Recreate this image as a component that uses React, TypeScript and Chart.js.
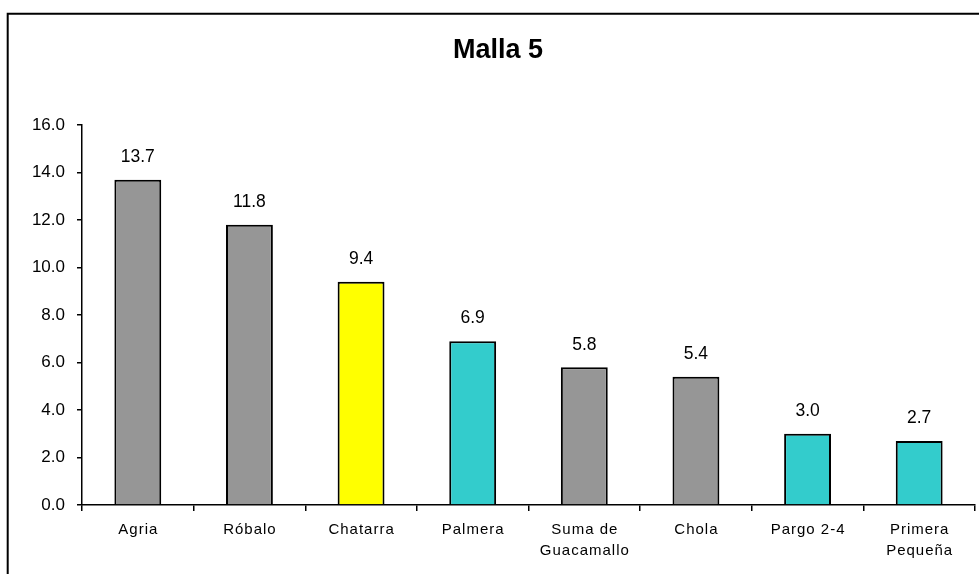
import React, { useEffect, useRef } from "react";
import { Chart, registerables } from "chart.js";

Chart.register(...registerables);

const TITLE = "Malla 5";
const categories: string[][] = [
  ["Agria"],
  ["Róbalo"],
  ["Chatarra"],
  ["Palmera"],
  ["Suma de", "Guacamallo"],
  ["Chola"],
  ["Pargo 2-4"],
  ["Primera", "Pequeña"],
];
const values: number[] = [13.7, 11.8, 9.4, 6.9, 5.8, 5.4, 3.0, 2.7];
const barColors: string[] = [
  "#969696",
  "#969696",
  "#FFFF00",
  "#33CCCC",
  "#969696",
  "#969696",
  "#33CCCC",
  "#33CCCC",
];
const yMin = 0;
const yMax = 16;
const yStep = 2;

const FONT = "Arial, 'Liberation Sans', sans-serif";

const overlayPlugin = {
  id: "overlay",
  beforeDraw(chart: any) {
    const ctx = chart.ctx;
    ctx.save();
    ctx.fillStyle = "#ffffff";
    ctx.fillRect(0, 0, chart.width, chart.height);
    ctx.strokeStyle = "#000000";
    ctx.lineWidth = 2;
    ctx.beginPath();
    ctx.moveTo(7.7, chart.height + 5);
    ctx.lineTo(7.7, 13.7);
    ctx.lineTo(chart.width + 5, 13.7);
    ctx.stroke();
    ctx.restore();
  },
  afterDraw(chart: any) {
    const ctx = chart.ctx;
    ctx.save();
    ctx.fillStyle = "#000000";
    ctx.font = `bold 27px ${FONT}`;
    ctx.textAlign = "center";
    ctx.textBaseline = "middle";
    ctx.fillText(TITLE, 498, 51);

    const meta = chart.getDatasetMeta(0);
    ctx.font = `17.5px ${FONT}`;
    meta.data.forEach((bar: any, i: number) => {
      ctx.fillText(values[i].toFixed(1), bar.x, bar.y - 22.5);
    });

    const xs = chart.scales.x;
    ctx.font = `15px ${FONT}`;
    try {
      (ctx as any).letterSpacing = "1px";
    } catch (e) {}
    categories.forEach((lines, i) => {
      const x = xs.getPixelForValue(i);
      lines.forEach((ln, j) => {
        ctx.fillText(ln, x + 0.5, 530 + j * 21);
      });
    });
    ctx.restore();
  },
};

export default function App() {
  const ref = useRef<HTMLCanvasElement | null>(null);
  useEffect(() => {
    if (!ref.current) return;
    const chart = new Chart(ref.current, {
      type: "bar",
      data: {
        labels: categories.map((c) => c.join(" ")),
        datasets: [
          {
            data: values,
            backgroundColor: barColors,
            borderColor: "#000000",
            borderWidth: 2,
            barPercentage: 0.42,
            categoryPercentage: 1,
          },
        ],
      },
      options: {
        responsive: false,
        animation: false,
        devicePixelRatio: 1,
        layout: { padding: { left: 0, right: 4, top: 125, bottom: 0 } },
        plugins: {
          legend: { display: false },
          title: { display: false },
          tooltip: { enabled: false },
        },
        scales: {
          x: {
            afterFit(scale: any) {
              scale.height = 69;
            },
            grid: {
              display: true,
              drawOnChartArea: false,
              drawTicks: true,
              tickLength: 6,
              color: "#000000",
              lineWidth: 1.5,
              offset: true,
            },
            border: { display: true, color: "#000000", width: 1.5 },
            ticks: { display: false },
          },
          y: {
            min: yMin,
            max: yMax,
            afterFit(scale: any) {
              scale.width = 82;
            },
            grid: {
              display: true,
              drawOnChartArea: false,
              drawTicks: true,
              tickLength: 5,
              color: "#000000",
              lineWidth: 1.5,
            },
            border: { display: true, color: "#000000", width: 1.5 },
            ticks: {
              stepSize: yStep,
              padding: 12,
              color: "#000000",
              font: { family: FONT, size: 17 },
              callback: (v: any) => Number(v).toFixed(1),
            },
          },
        },
      },
      plugins: [overlayPlugin],
    });
    return () => chart.destroy();
  }, []);
  return (
    <div style={{ position: "absolute", left: 0, top: 0, width: 979, height: 574 }}>
      <canvas ref={ref} width={979} height={574} style={{ display: "block" }} />
    </div>
  );
}
